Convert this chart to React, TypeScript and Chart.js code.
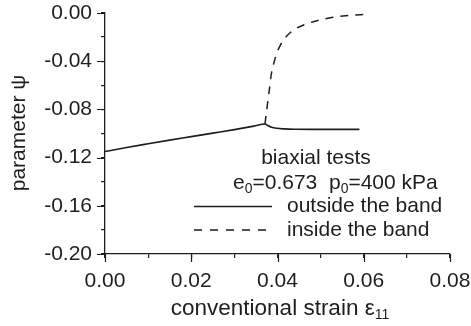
import React, { useEffect, useRef } from "react";
import { Chart, registerables } from "chart.js";

Chart.register(...registerables);

// Strain ε11 and state parameter ψ outside the shear band
const strainOutside = [0, 0.005, 0.01, 0.015, 0.02, 0.025, 0.03, 0.0345, 0.0371, 0.0378, 0.0386, 0.0398, 0.0415, 0.044, 0.048, 0.053, 0.059];
const psiOutside = [-0.115, -0.1116, -0.1085, -0.1055, -0.1026, -0.0997, -0.0968, -0.0939, -0.0921, -0.0935, -0.0948, -0.0957, -0.0962, -0.0965, -0.0966, -0.0966, -0.0966];

// Strain ε11 and state parameter ψ inside the shear band
const strainInside = [0.0371, 0.0375, 0.038, 0.0386, 0.0392, 0.0398, 0.0407, 0.0417, 0.043, 0.0444, 0.0462, 0.0483, 0.0505, 0.0529, 0.0552, 0.0576, 0.06];
const psiInside = [-0.0921, -0.0805, -0.0667, -0.050, -0.041, -0.0335, -0.0265, -0.021, -0.0162, -0.0127, -0.0097, -0.0072, -0.0052, -0.0036, -0.0025, -0.0017, -0.0012];

// Axis ticks: every value gets a mark, the major ones also get a label
const xTickValues = [0, 0.01, 0.02, 0.03, 0.04, 0.05, 0.06, 0.07, 0.08];
const yTickValues = [-0.2, -0.18, -0.16, -0.14, -0.12, -0.1, -0.08, -0.06, -0.04, -0.02, 0];
const xMajorStep = 0.02;
const yMajorStep = 0.04;

const INK = "#1e1e1e";
const FONT = "'Liberation Sans', Arial, Helvetica, sans-serif";
const FONT_SIZE = 21;
const TITLE_SIZE = 22.5;
const SUB_SIZE = 14;

const isMajor = (v: number, step: number) => Math.abs(Math.round(v / step) * step - v) < 1e-9;
const fmt = (v: number) => (Math.abs(v) < 1e-9 ? "0.00" : v.toFixed(2));

type Run = { t: string; sub?: boolean };

function runsWidth(ctx: CanvasRenderingContext2D, runs: Run[], size: number) {
  let w = 0;
  for (const r of runs) {
    ctx.font = `${r.sub ? SUB_SIZE : size}px ${FONT}`;
    w += ctx.measureText(r.t).width;
  }
  return w;
}

// Draws text made of normal and subscript pieces, starting at x, vertically centred on y
function drawRuns(ctx: CanvasRenderingContext2D, runs: Run[], x: number, y: number, size = FONT_SIZE) {
  ctx.textBaseline = "middle";
  ctx.textAlign = "left";
  let cx = x;
  for (const r of runs) {
    ctx.font = `${r.sub ? SUB_SIZE : size}px ${FONT}`;
    ctx.fillText(r.t, cx, r.sub ? y + 6 : y);
    cx += ctx.measureText(r.t).width;
  }
}

// Scales keep no extra room for labels that overhang the plot edges
const noOverhang = (s: any) => {
  s.paddingTop = 0;
  s.paddingBottom = 0;
  s.paddingLeft = 0;
  s.paddingRight = 0;
};

const decorPlugin = {
  id: "decor",
  afterDraw(chart: any) {
    const ctx: CanvasRenderingContext2D = chart.ctx;
    const xs = chart.scales.x;
    const ys = chart.scales.y;
    const area = chart.chartArea;
    ctx.save();
    ctx.strokeStyle = INK;
    ctx.fillStyle = INK;
    ctx.lineWidth = 1.2;

    // longer marks on the labelled ticks
    ctx.beginPath();
    xTickValues.forEach((v) => {
      if (!isMajor(v, xMajorStep)) return;
      const px = Math.round(xs.getPixelForValue(v)) + 0.5;
      ctx.moveTo(px, area.bottom);
      ctx.lineTo(px, area.bottom + 8);
    });
    yTickValues.forEach((v) => {
      if (!isMajor(v, yMajorStep)) return;
      const py = Math.round(ys.getPixelForValue(v)) + 0.5;
      ctx.moveTo(area.left, py);
      ctx.lineTo(area.left - 8, py);
    });
    ctx.stroke();

    // axis titles
    const xTitle: Run[] = [{ t: "conventional strain ε" }, { t: "11", sub: true }];
    const xw = runsWidth(ctx, xTitle, TITLE_SIZE);
    drawRuns(ctx, xTitle, 280 - xw / 2, 309, TITLE_SIZE);

    ctx.save();
    ctx.translate(19, 133);
    ctx.rotate(-Math.PI / 2);
    ctx.font = `${FONT_SIZE}px ${FONT}`;
    ctx.textAlign = "center";
    ctx.textBaseline = "middle";
    ctx.fillText("parameter ψ", 0, 0);
    ctx.restore();

    // key
    ctx.font = `${FONT_SIZE}px ${FONT}`;
    ctx.textAlign = "center";
    ctx.textBaseline = "middle";
    ctx.fillText("biaxial tests", 316, 158);

    drawRuns(
      ctx,
      [{ t: "e" }, { t: "0", sub: true }, { t: "=0.673  p" }, { t: "0", sub: true }, { t: "=400 kPa" }],
      233,
      183
    );

    ctx.lineWidth = 1.5;
    ctx.setLineDash([]);
    ctx.beginPath();
    ctx.moveTo(194, 206.5);
    ctx.lineTo(272, 206.5);
    ctx.stroke();
    drawRuns(ctx, [{ t: "outside the band" }], 287, 206);

    ctx.setLineDash([8, 8]);
    ctx.beginPath();
    ctx.moveTo(194, 230);
    ctx.lineTo(272, 230);
    ctx.stroke();
    ctx.setLineDash([]);
    drawRuns(ctx, [{ t: "inside the band" }], 287, 230);

    ctx.restore();
  },
};

export default function App() {
  const canvasRef = useRef<HTMLCanvasElement | null>(null);

  useEffect(() => {
    const canvas = canvasRef.current;
    if (!canvas) return;

    const chart = new Chart(canvas, {
      type: "line",
      data: {
        datasets: [
          {
            label: "outside the band",
            data: strainOutside.map((x, i) => ({ x, y: psiOutside[i] })),
            borderColor: INK,
            borderWidth: 1.6,
            pointRadius: 0,
            cubicInterpolationMode: "monotone",
            fill: false,
          },
          {
            label: "inside the band",
            data: strainInside.map((x, i) => ({ x, y: psiInside[i] })),
            borderColor: INK,
            borderWidth: 1.5,
            borderDash: [8, 7],
            pointRadius: 0,
            cubicInterpolationMode: "monotone",
            fill: false,
          },
        ],
      },
      options: {
        animation: false,
        responsive: false,
        maintainAspectRatio: false,
        layout: { padding: { top: 13, right: 21, left: 0, bottom: 0 } },
        plugins: {
          legend: { display: false },
          tooltip: { enabled: false },
        },
        scales: {
          x: {
            type: "linear",
            min: 0,
            max: 0.08,
            afterFit: (s: any) => {
              s.height = 72;
              noOverhang(s);
            },
            afterBuildTicks: (s: any) => {
              s.ticks = xTickValues.map((value) => ({ value }));
            },
            ticks: {
              autoSkip: false,
              maxRotation: 0,
              padding: 11,
              color: INK,
              font: { family: FONT, size: FONT_SIZE },
              callback: (v: any) => (isMajor(Number(v), xMajorStep) ? fmt(Number(v)) : ""),
            },
            grid: { drawOnChartArea: false, drawTicks: true, tickLength: 4, color: INK, lineWidth: 1.2 },
            border: { display: true, color: INK, width: 1.3 },
          },
          y: {
            type: "linear",
            min: -0.2,
            max: 0,
            afterFit: (s: any) => {
              s.width = 105;
              noOverhang(s);
            },
            afterBuildTicks: (s: any) => {
              s.ticks = yTickValues.map((value) => ({ value }));
            },
            ticks: {
              autoSkip: false,
              padding: 9,
              color: INK,
              font: { family: FONT, size: FONT_SIZE },
              callback: (v: any) => (isMajor(Number(v), yMajorStep) ? fmt(Number(v)) : ""),
            },
            grid: { drawOnChartArea: false, drawTicks: true, tickLength: 4, color: INK, lineWidth: 1.2 },
            border: { display: true, color: INK, width: 1.3 },
          },
        },
      },
      plugins: [decorPlugin],
    } as any);

    return () => chart.destroy();
  }, []);

  return (
    <div style={{ position: "fixed", left: 0, top: 0, width: 471, height: 326, background: "#fff" }}>
      <canvas ref={canvasRef} width={471} height={326} style={{ display: "block", width: 471, height: 326 }} />
    </div>
  );
}
